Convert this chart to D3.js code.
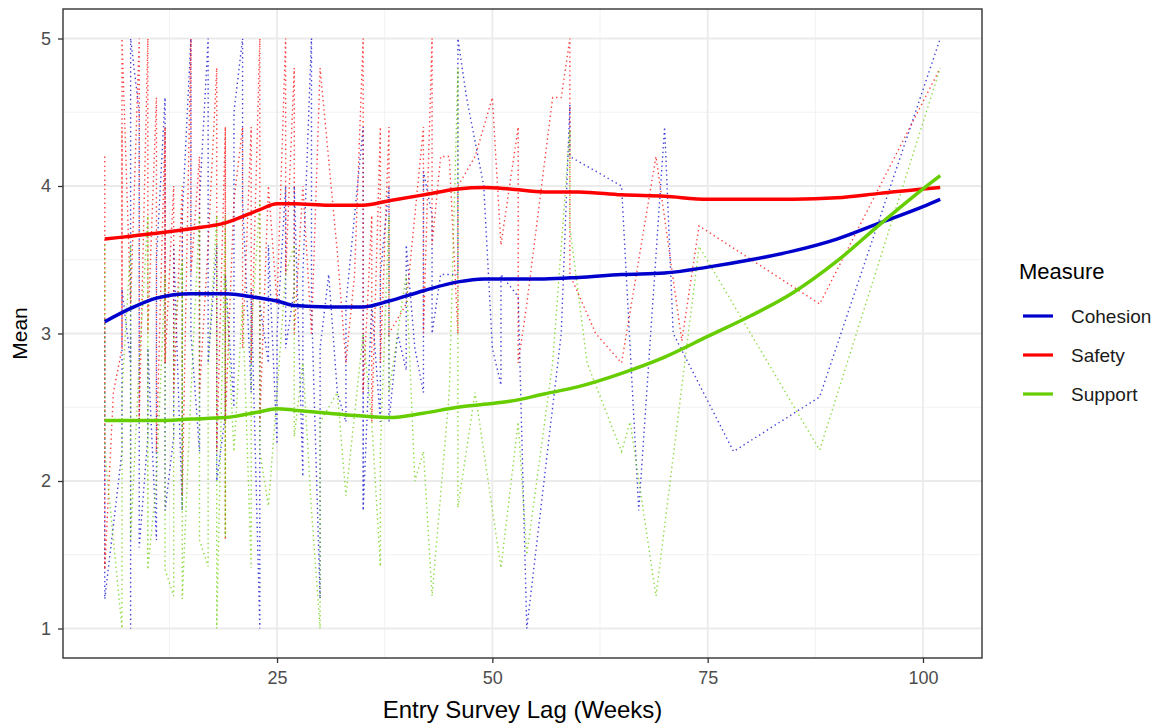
<!DOCTYPE html>
<html>
<head>
<meta charset="utf-8">
<script src="https://cdn.jsdelivr.net/npm/d3@7.9.0/dist/d3.min.js"></script>
<style>
  body { margin: 0; background: #fff; }
  text { font-family: "Liberation Sans", Arial, sans-serif; }
</style>
</head>
<body>
<svg width="1168" height="724"></svg>
<script>
const measures = ['Cohesion', 'Safety', 'Support'];
const colors = ['#0000CD', '#FF0000', '#66CD00'];
const xTicks = [25, 50, 75, 100];
const yTicks = [1, 2, 3, 4, 5];
const xMinor = [12.5, 37.5, 62.5, 87.5];
const yMinor = [1.5, 2.5, 3.5, 4.5];

// raw means [week, mean]
const cohesionRaw = [
  [5, 3.1], [5, 1.2], [7, 2.2], [7, 3.3], [8, 2.8], [8, 3.0], [8, 2.8], [8, 1.0], [8, 5.0],
  [9, 4.5], [9, 1.55], [10, 2.3], [10, 2.9], [11, 1.6], [11, 3.5], [12, 4.6], [12, 1.8],
  [13, 2.3], [13, 3.6], [14, 1.8], [14, 3.8], [15, 5.0], [15, 3.0], [16, 2.2], [16, 3.9],
  [17, 5.0], [17, 2.8], [18, 3.6], [18, 2.0], [19, 2.45], [19, 3.4], [20, 2.5], [20, 4.5],
  [21, 5.0], [21, 3.9], [22, 2.6], [22, 3.3], [23, 1.0], [23, 3.2], [24, 2.8], [24, 3.6],
  [25, 2.25], [25, 3.0], [26, 4.0], [26, 2.9], [27, 3.3], [27, 4.0], [28, 2.03], [28, 3.4],
  [29, 5.0], [29, 3.2], [30, 1.2], [30, 2.9], [31, 3.4], [32, 2.6], [33, 2.4], [33, 3.2],
  [35, 4.4], [35, 1.8], [35, 3.0], [35, 1.8], [36, 3.2], [37, 2.4], [37, 3.4], [38, 4.0], [38, 2.4],
  [39, 3.0], [40, 2.75], [40, 3.6], [41, 2.9], [42, 2.6], [42, 4.1], [43, 3.8], [43, 3.0], [44, 3.4],
  [46, 3.4], [46, 5.0], [47, 4.6], [49, 4.0], [50, 2.9], [51, 2.65], [51, 3.4], [53, 3.25], [54, 1.0],
  [58, 3.0], [59, 4.55], [59, 4.2], [65, 4.0], [67, 1.8], [70, 4.4], [71, 3.0],
  [78, 2.2], [88, 2.57], [102, 5.0]
];
const safetyRaw = [
  [5, 4.2], [5, 1.4], [6, 2.6], [7, 2.9], [7, 4.4], [7, 2.9], [7, 4.4], [7, 5.0], [8, 3.2],
  [9, 5.0], [9, 2.4], [10, 5.0], [10, 3.0], [11, 4.6], [11, 2.2], [12, 4.4], [12, 2.8],
  [12, 4.4], [12, 2.8], [13, 4.0], [13, 2.6], [14, 4.0], [14, 1.9], [15, 5.0], [15, 3.4],
  [16, 4.2], [16, 2.6], [17, 3.6], [18, 4.8], [18, 2.2], [19, 4.4], [19, 1.6], [19, 4.4], [19, 2.4],
  [20, 3.9], [21, 4.4], [21, 2.9], [22, 4.4], [22, 2.8], [23, 5.0], [23, 2.4], [24, 4.0], [25, 3.2],
  [26, 5.0], [26, 3.4], [27, 4.8], [27, 3.0], [28, 4.0], [29, 3.0], [30, 4.8], [32, 3.55], [33, 2.8],
  [34, 3.4], [35, 5.0], [35, 2.6], [36, 3.8], [36, 2.4], [37, 4.4], [37, 2.8], [38, 4.4], [38, 3.0],
  [40, 3.2], [41, 3.8], [42, 4.4], [42, 3.0], [43, 5.0], [43, 3.6], [44, 4.2], [45, 4.2],
  [46, 3.0], [46, 4.0], [48, 4.2], [50, 4.6], [51, 3.6], [53, 4.4], [53, 2.8], [54, 3.2],
  [57, 4.6], [58, 4.6], [59, 5.0], [59, 3.4], [62, 3.0], [65, 2.8], [69, 4.2], [72, 2.95],
  [74, 3.73], [88, 3.2], [102, 4.8]
];
const supportRaw = [
  [5, 3.6], [5, 2.2], [6, 1.6], [7, 1.0], [7, 2.6], [8, 3.6], [8, 1.6], [9, 2.8], [10, 3.8], [10, 1.4],
  [10, 3.8], [10, 1.4], [11, 2.0], [12, 3.4], [12, 1.4], [13, 1.22], [13, 3.0],
  [14, 3.5], [14, 1.8], [14, 3.5], [14, 1.2], [15, 2.6], [16, 3.8], [16, 1.6],
  [17, 1.42], [17, 2.8], [18, 3.8], [18, 1.0], [19, 3.8], [19, 1.62], [19, 3.4],
  [20, 2.2], [21, 3.2], [22, 1.41], [22, 3.0], [23, 3.9], [23, 2.2], [24, 1.83], [25, 2.6],
  [26, 3.4], [27, 3.6], [27, 2.3], [28, 2.8], [29, 1.8], [30, 1.0], [30, 2.4], [32, 2.6], [33, 1.9],
  [35, 3.0], [36, 2.4], [37, 1.42], [37, 2.2], [38, 3.8], [38, 2.6], [40, 3.4], [41, 2.0], [42, 2.2],
  [43, 1.22], [45, 2.6], [46, 4.8], [46, 1.82], [48, 2.6], [51, 1.41], [53, 2.4], [54, 1.5],
  [57, 2.8], [59, 4.38], [59, 3.72], [61, 2.8], [65, 2.2], [66, 2.4], [69, 1.22],
  [74, 3.59], [88, 2.21], [102, 4.8]
];

// loess trend
const smoothWeeks = [5, 8, 11, 15, 19, 23, 25, 27, 31, 35, 38, 42, 46, 49, 52, 56, 60, 65, 70, 75, 80, 85, 90, 95, 100, 102];
const cohesionSmooth = [3.08, 3.17, 3.24, 3.27, 3.27, 3.24, 3.22, 3.19, 3.18, 3.18, 3.22, 3.29, 3.35, 3.37, 3.37, 3.37, 3.38, 3.40, 3.41, 3.45, 3.50, 3.56, 3.64, 3.75, 3.86, 3.91];
const safetySmooth = [3.64, 3.66, 3.68, 3.71, 3.75, 3.84, 3.88, 3.88, 3.87, 3.87, 3.90, 3.94, 3.98, 3.99, 3.98, 3.96, 3.96, 3.94, 3.93, 3.91, 3.91, 3.91, 3.92, 3.95, 3.98, 3.99];
const supportSmooth = [2.41, 2.41, 2.41, 2.42, 2.43, 2.47, 2.49, 2.48, 2.46, 2.44, 2.43, 2.46, 2.50, 2.52, 2.54, 2.59, 2.64, 2.73, 2.84, 2.98, 3.12, 3.28, 3.49, 3.74, 3.98, 4.07];

const raws = [cohesionRaw, safetyRaw, supportRaw];
const smooths = [cohesionSmooth, safetySmooth, supportSmooth];

const svg = d3.select('svg');
const x = d3.scaleLinear().domain([0.15, 106.85]).range([63, 982]);
const y = d3.scaleLinear().domain([0.8, 5.2]).range([658, 9]);

const panel = svg.append('g');
panel.append('rect')
  .attr('x', x.range()[0]).attr('y', y.range()[1])
  .attr('width', x.range()[1] - x.range()[0]).attr('height', y.range()[0] - y.range()[1])
  .attr('fill', '#fff');

// grid
panel.selectAll('.xminor').data(xMinor).join('line')
  .attr('x1', d => x(d)).attr('x2', d => x(d))
  .attr('y1', y.range()[0]).attr('y2', y.range()[1])
  .attr('stroke', '#F2F2F2').attr('stroke-width', 1);
panel.selectAll('.yminor').data(yMinor).join('line')
  .attr('y1', d => y(d)).attr('y2', d => y(d))
  .attr('x1', x.range()[0]).attr('x2', x.range()[1])
  .attr('stroke', '#F2F2F2').attr('stroke-width', 1);
panel.selectAll('.xmajor').data(xTicks).join('line')
  .attr('x1', d => x(d)).attr('x2', d => x(d))
  .attr('y1', y.range()[0]).attr('y2', y.range()[1])
  .attr('stroke', '#EBEBEB').attr('stroke-width', 1.8);
panel.selectAll('.ymajor').data(yTicks).join('line')
  .attr('y1', d => y(d)).attr('y2', d => y(d))
  .attr('x1', x.range()[0]).attr('x2', x.range()[1])
  .attr('stroke', '#EBEBEB').attr('stroke-width', 1.8);

// dotted raw lines
const line = d3.line().x(d => x(d[0])).y(d => y(d[1]));
raws.forEach((raw, i) => {
  panel.append('path')
    .attr('d', line(raw))
    .attr('fill', 'none')
    .attr('stroke', colors[i])
    .attr('stroke-width', 1.4)
    .attr('stroke-dasharray', '1.4,3.2')
    .attr('opacity', 0.75);
});

// smooth trend lines
const smoothLine = d3.line().curve(d3.curveMonotoneX)
  .x((d, j) => x(smoothWeeks[j])).y(d => y(d));
smooths.forEach((s, i) => {
  panel.append('path')
    .attr('d', smoothLine(s))
    .attr('fill', 'none')
    .attr('stroke', colors[i])
    .attr('stroke-width', 3.5);
});

// border
panel.append('rect')
  .attr('x', x.range()[0]).attr('y', y.range()[1])
  .attr('width', x.range()[1] - x.range()[0]).attr('height', y.range()[0] - y.range()[1])
  .attr('fill', 'none').attr('stroke', '#333').attr('stroke-width', 1.4);

// axes
const xAxis = svg.append('g')
  .attr('transform', `translate(0,${y.range()[0]})`)
  .call(d3.axisBottom(x).tickValues(xTicks).tickSize(5).tickPadding(8));
const yAxis = svg.append('g')
  .attr('transform', `translate(${x.range()[0]},0)`)
  .call(d3.axisLeft(y).tickValues(yTicks).tickFormat(d3.format('d')).tickSize(5).tickPadding(7));
[xAxis, yAxis].forEach(ax => {
  ax.select('.domain').remove();
  ax.selectAll('line').attr('stroke', '#333').attr('stroke-width', 1.3);
  ax.selectAll('text').attr('fill', '#4D4D4D').attr('font-size', 18)
    .attr('font-family', '"Liberation Sans", Arial, sans-serif');
});

svg.append('text')
  .attr('x', (x.range()[0] + x.range()[1]) / 2).attr('y', 718)
  .attr('text-anchor', 'middle').attr('font-size', 24).attr('fill', '#000')
  .text('Entry Survey Lag (Weeks)');
svg.append('text')
  .attr('transform', `translate(27,${(y.range()[0] + y.range()[1]) / 2}) rotate(-90)`)
  .attr('text-anchor', 'middle').attr('font-size', 21).attr('fill', '#000')
  .text('Mean');

// legend
const legend = svg.append('g');
legend.append('text').attr('x', 1019).attr('y', 279)
  .attr('font-size', 22).attr('fill', '#000').text('Measure');
measures.forEach((m, i) => {
  const ly = 316 + i * 39;
  legend.append('line')
    .attr('x1', 1023).attr('x2', 1053).attr('y1', ly).attr('y2', ly)
    .attr('stroke', colors[i]).attr('stroke-width', 3.2);
  legend.append('text').attr('x', 1071).attr('y', ly + 7)
    .attr('font-size', 19).attr('fill', '#1a1a1a').text(m);
});
</script>
</body>
</html>
